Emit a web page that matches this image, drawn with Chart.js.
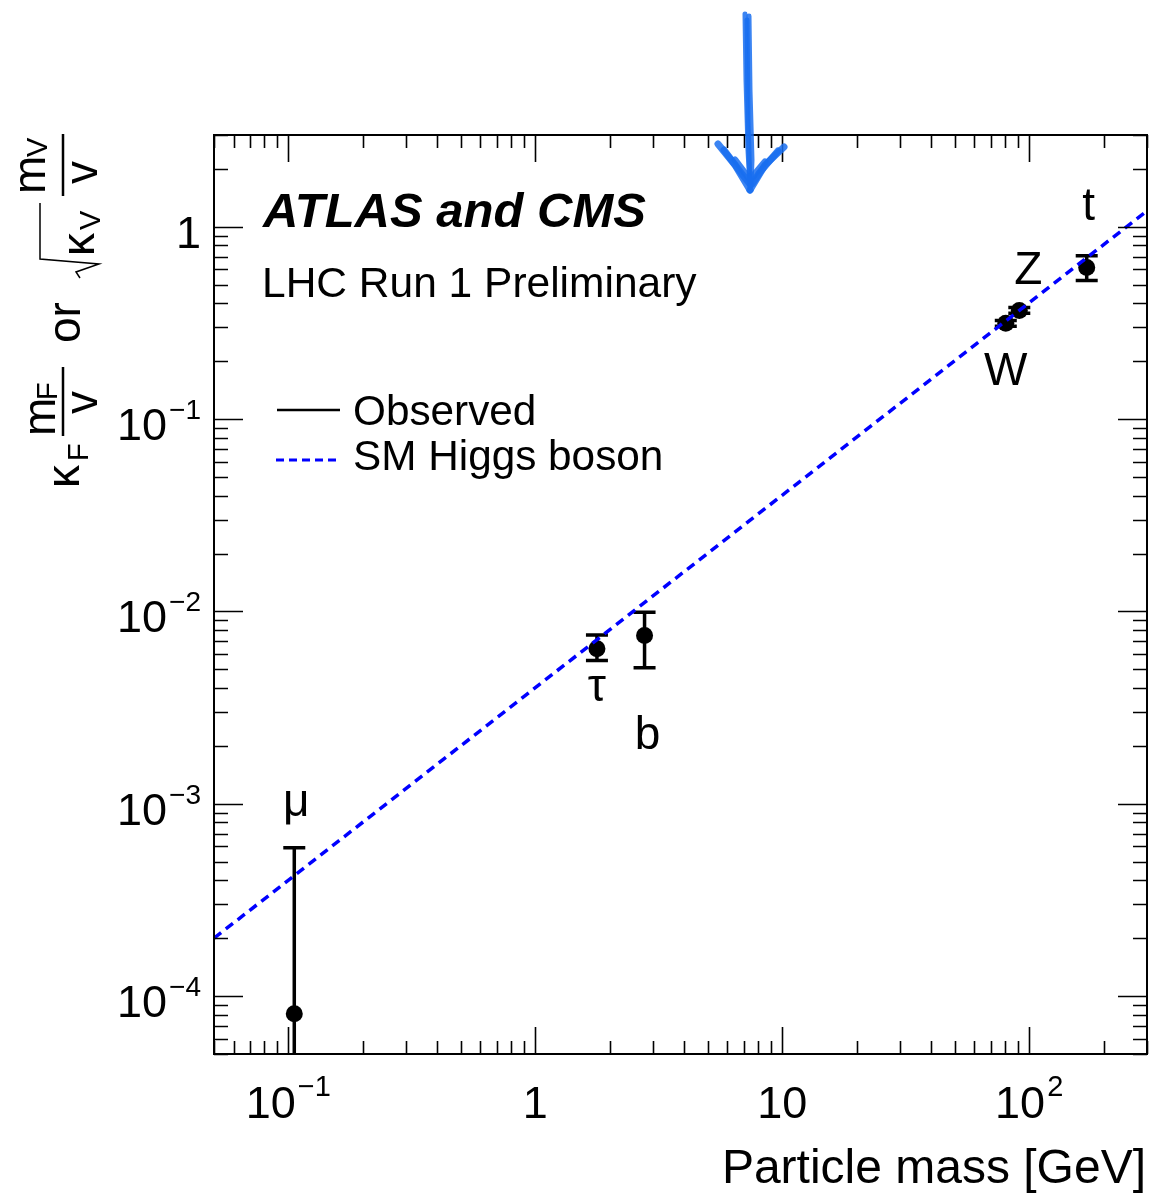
<!DOCTYPE html>
<html>
<head>
<meta charset="utf-8">
<script src="https://cdn.jsdelivr.net/npm/chart.js@4.4.1/dist/chart.umd.min.js"></script>
<style>
  html, body { margin: 0; padding: 0; background: #fff; }
  #coupling-plot { display: block; }
</style>
</head>
<body>
<canvas id="coupling-plot" width="1162" height="1199"></canvas>
<script>
// measured couplings per particle, with the 68% interval ends
var particles = ['μ', 'τ', 'b', 'W', 'Z', 't'];
var mass      = [0.1057, 1.777, 2.77, 80.4, 91.2, 171];
var coupling  = [8.1e-5, 6.4e-3, 7.5e-3, 0.315, 0.367, 0.614];
var errHigh   = [5.9e-4, 7.55e-3, 9.9e-3, 0.326, 0.380, 0.706];
var errLow    = [1e-6, 5.55e-3, 5.1e-3, 0.304, 0.355, 0.525];

// SM expectation, end points of the straight line on log-log
var smMass     = [0.05, 300];
var smCoupling = [2.0e-4, 1.21];

// axis ticks: [base, exponent]
var xTickValues = [0.1, 1, 10, 100];
var xTickLabels = [['10', '−1'], ['1', ''], ['10', ''], ['10', '2']];
var yTickValues = [1e-4, 1e-3, 1e-2, 1e-1, 1];
var yTickLabels = [['10', '−4'], ['10', '−3'], ['10', '−2'], ['10', '−1'], ['1', '']];

var FONT = '"Liberation Sans", Arial, Helvetica, sans-serif';

function font(size, style) {
  return (style ? style + ' ' : '') + size + 'px ' + FONT;
}

// label placement relative to each marker, in pixels
var labelOffsets = [[2, -198], [0, 52], [3, 114], [0, 62], [9, -26], [2, -48]];

function logTicks(min, max) {
  var out = [];
  for (var d = Math.floor(Math.log10(min)); d <= Math.ceil(Math.log10(max)); d++) {
    for (var k = 1; k <= 9; k++) {
      var v = k * Math.pow(10, d);
      if (v >= min * 0.999 && v <= max * 1.001) out.push({ v: v, major: k === 1 });
    }
  }
  return out;
}

// error bars go under the datasets
var errorBars = {
  id: 'errorBars',
  beforeDatasetsDraw: function(chart) {
    var ctx = chart.ctx, xs = chart.scales.x, ys = chart.scales.y, a = chart.chartArea;
    ctx.save();
    ctx.beginPath();
    ctx.rect(a.left, a.top, a.right - a.left, a.bottom - a.top);
    ctx.clip();
    ctx.strokeStyle = '#000';
    ctx.lineWidth = 3.5;
    for (var i = 0; i < mass.length; i++) {
      var px = xs.getPixelForValue(mass[i]);
      var hi = ys.getPixelForValue(errHigh[i]);
      var lo = ys.getPixelForValue(errLow[i]);
      ctx.beginPath();
      ctx.moveTo(px, hi); ctx.lineTo(px, lo);
      ctx.moveTo(px - 11, hi); ctx.lineTo(px + 11, hi);
      if (lo < a.bottom) { ctx.moveTo(px - 11, lo); ctx.lineTo(px + 11, lo); }
      ctx.stroke();
    }
    ctx.restore();
  }
};

// frame, inward ticks on all four sides, labels and annotations
var decorations = {
  id: 'decorations',
  afterDraw: function(chart) {
    var ctx = chart.ctx, xs = chart.scales.x, ys = chart.scales.y, a = chart.chartArea;
    ctx.save();
    ctx.strokeStyle = '#000';
    ctx.lineWidth = 2;
    ctx.strokeRect(a.left, a.top, a.right - a.left, a.bottom - a.top);

    ctx.lineWidth = 1.6;
    ctx.beginPath();
    logTicks(xs.min, xs.max).forEach(function(t) {
      var p = Math.round(xs.getPixelForValue(t.v)) + 0.5;
      var len = t.major ? 27 : 13;
      ctx.moveTo(p, a.bottom); ctx.lineTo(p, a.bottom - len);
      ctx.moveTo(p, a.top); ctx.lineTo(p, a.top + len);
    });
    logTicks(ys.min, ys.max).forEach(function(t) {
      var p = Math.round(ys.getPixelForValue(t.v)) + 0.5;
      var len = t.major ? 29 : 14;
      ctx.moveTo(a.left, p); ctx.lineTo(a.left + len, p);
      ctx.moveTo(a.right, p); ctx.lineTo(a.right - len, p);
    });
    ctx.stroke();

    ctx.fillStyle = '#000';
    ctx.textBaseline = 'alphabetic';

    // x tick labels, centred on the tick
    xTickValues.forEach(function(v, i) {
      var base = xTickLabels[i][0], sup = xTickLabels[i][1];
      ctx.font = font(45);
      var wb = ctx.measureText(base).width;
      ctx.font = font(29);
      var ws = sup ? ctx.measureText(sup).width + 2 : 0;
      var x0 = xs.getPixelForValue(v) - (wb + ws) / 2;
      ctx.textAlign = 'left';
      ctx.font = font(45);
      ctx.fillText(base, x0, 1118);
      if (sup) { ctx.font = font(29); ctx.fillText(sup, x0 + wb + 2, 1096); }
    });

    // y tick labels, right aligned
    yTickValues.forEach(function(v, i) {
      var base = yTickLabels[i][0], sup = yTickLabels[i][1];
      var py = ys.getPixelForValue(v);
      ctx.textAlign = 'right';
      var xr = 201;
      if (sup) {
        ctx.font = font(28);
        ctx.fillText(sup, xr, py);
        xr -= ctx.measureText(sup).width + 2;
      }
      ctx.font = font(45);
      ctx.fillText(base, xr, py + 21);
    });

    // x axis title
    ctx.textAlign = 'right';
    ctx.font = font(48);
    ctx.fillText('Particle mass [GeV]', 1146, 1183);

    // y axis title, rotated; u runs up the page, v runs to the right
    ctx.save();
    ctx.translate(0, 500);
    ctx.rotate(-Math.PI / 2);
    ctx.textAlign = 'left';
    var pieces = [
      ['κ', 46, 12, 79], ['F', 29, 39, 88],
      ['m', 46, 64, 55], ['F', 29, 100, 57], ['v', 46, 86, 97],
      ['or', 46, 157, 80],
      ['κ', 46, 244, 94], ['V', 29, 270, 100],
      ['m', 46, 306, 45], ['V', 29, 343, 47], ['v', 46, 316, 97]
    ];
    pieces.forEach(function(p) {
      ctx.font = font(p[1]);
      ctx.fillText(p[0], p[2], p[3]);
    });
    ctx.lineWidth = 2.5;
    ctx.beginPath();
    ctx.moveTo(64, 63); ctx.lineTo(133, 63);
    ctx.moveTo(304, 63); ctx.lineTo(366, 63);
    ctx.stroke();
    ctx.lineWidth = 1.5;
    ctx.beginPath();
    ctx.moveTo(222, 80); ctx.lineTo(228, 76);
    ctx.lineTo(236, 99); ctx.lineTo(241, 40);
    ctx.lineTo(297, 40);
    ctx.stroke();
    ctx.restore();

    // particle labels
    ctx.textAlign = 'center';
    ctx.font = font(46);
    particles.forEach(function(name, i) {
      var px = xs.getPixelForValue(mass[i]) + labelOffsets[i][0];
      var py = ys.getPixelForValue(coupling[i]) + labelOffsets[i][1];
      ctx.fillText(name, px, py);
    });

    // experiment / dataset tags
    ctx.textAlign = 'left';
    ctx.font = font(49, 'italic bold');
    ctx.fillText('ATLAS and CMS', 263, 227);
    ctx.font = font(42.5);
    ctx.fillText('LHC Run 1 Preliminary', 262, 297);

    // legend
    ctx.font = font(42.3);
    ctx.fillText('Observed', 353, 425);
    ctx.fillText('SM Higgs boson', 353, 470);
    ctx.lineWidth = 2.5;
    ctx.beginPath();
    ctx.moveTo(277, 410); ctx.lineTo(340, 410);
    ctx.stroke();
    ctx.strokeStyle = '#0000ff';
    ctx.lineWidth = 3;
    ctx.setLineDash([8, 5]);
    ctx.beginPath();
    ctx.moveTo(276, 460); ctx.lineTo(336, 460);
    ctx.stroke();
    ctx.setLineDash([]);

    // hand drawn pointer above the plot
    ctx.strokeStyle = 'rgba(25, 110, 240, 0.85)';
    ctx.lineCap = 'round';
    ctx.lineJoin = 'round';
    var strokes = [
      [[745, 14], [746, 80], [748, 150], [750, 188]],
      [[749, 16], [750, 90], [752, 160], [751, 186]],
      [[747, 20], [748, 120], [750, 185]],
      [[718, 144], [735, 165], [750, 190]],
      [[784, 147], [765, 165], [750, 190]],
      [[724, 150], [742, 174], [750, 184]],
      [[778, 151], [760, 172], [752, 184]],
      [[735, 160], [750, 180], [765, 162]]
    ];
    strokes.forEach(function(s, i) {
      ctx.lineWidth = i < 3 ? 5 : 7;
      ctx.beginPath();
      ctx.moveTo(s[0][0], s[0][1]);
      for (var k = 1; k < s.length; k++) ctx.lineTo(s[k][0], s[k][1]);
      ctx.stroke();
    });
    ctx.restore();
  }
};

var ctx = document.getElementById('coupling-plot').getContext('2d');
var plot = new Chart(ctx, {
  type: 'scatter',
  data: {
    datasets: [
      {
        label: 'SM Higgs boson',
        data: smMass.map(function(m, i) { return { x: m, y: smCoupling[i] }; }),
        showLine: true,
        borderColor: '#0000ff',
        borderWidth: 3.5,
        borderDash: [9, 6],
        pointRadius: 0,
        order: 0
      },
      {
        label: 'Observed',
        data: mass.map(function(m, i) { return { x: m, y: coupling[i] }; }),
        showLine: false,
        pointRadius: 8.5,
        pointBackgroundColor: '#000',
        pointBorderWidth: 0,
        order: 1
      }
    ]
  },
  options: {
    responsive: false,
    devicePixelRatio: 1,
    animation: false,
    layout: { padding: { left: 214, right: 15, top: 135, bottom: 145 } },
    scales: {
      x: { type: 'logarithmic', min: 0.05, max: 300, display: false },
      y: { type: 'logarithmic', min: 5e-5, max: 3, display: false }
    },
    plugins: {
      legend: { display: false },
      tooltip: { enabled: false }
    }
  },
  plugins: [errorBars, decorations]
});
</script>
</body>
</html>
